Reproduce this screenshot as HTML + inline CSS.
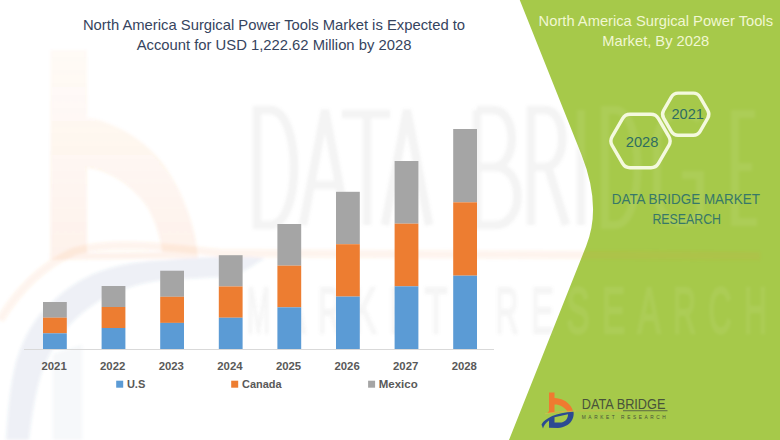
<!DOCTYPE html>
<html><head><meta charset="utf-8">
<style>
html,body{margin:0;padding:0;background:#fff;}
body{width:780px;height:440px;overflow:hidden;position:relative;font-family:"Liberation Sans",sans-serif;}
svg{position:absolute;left:0;top:0;}
</style></head>
<body>
<svg width="780" height="440" viewBox="0 0 780 440" font-family="Liberation Sans, sans-serif">
  <rect x="0" y="0" width="780" height="440" fill="#ffffff"/>
  <!-- green panel -->
  <path d="M519.76,0 L581.21,154 Q602.11,206.4 586.18,246 L509,440 L780,440 L780,0 Z" fill="#a6c94a"/>

  <!-- watermark -->
  <defs>
    <filter id="bl" x="-5%" y="-5%" width="110%" height="110%"><feGaussianBlur stdDeviation="1.6"/></filter>
    <linearGradient id="gb" x1="0" y1="50" x2="0" y2="260" gradientUnits="userSpaceOnUse"><stop offset="0" stop-color="#f07b30" stop-opacity="0.035"/><stop offset="1" stop-color="#f07b30" stop-opacity="0.1"/></linearGradient>
    <clipPath id="cg"><path d="M519.76,0 L581.21,154 Q602.11,206.4 586.18,246 L509,440 L780,440 L780,0 Z"/></clipPath>
    <clipPath id="cw"><path d="M0,0 L519.76,0 L581.21,154 Q602.11,206.4 586.18,246 L509,440 L0,440 Z"/></clipPath>
  </defs>
  <g filter="url(#bl)">
    <path fill="url(#gb)" fill-rule="evenodd" d="M50.5,50 L87,50 L87,118 C 105,119 140,135 160,160 C 180,185 196,225 198,258 L50.5,260 Z M87,168 C 110,170 135,188 148,208 C 157,225 161,240 162,252 L87,253 Z"/>
    <path fill="none" stroke="#f07b30" stroke-opacity="0.085" stroke-width="8" d="M0,320 C 20,287 45,264 75,251 C 110,241 160,246 220,253 L760,256"/>
    <path fill="#3b5a9a" fill-opacity="0.085" d="M6,440 C 8,410 10,385 16,362 C 24,335 35,318 49,305 C 64,290 80,279 98,272 C 120,264 140,261 164,260 C 200,257 235,255 265,258 C 250,268 240,274 229,276 C 205,279 185,278 164,280 C 140,283 122,289 106,297 C 90,306 76,317 65.5,330 C 54,345 46,360 41,375 C 35,395 31,420 29,440 Z"/>
    <path fill="#3b5a9a" fill-opacity="0.05" d="M53,354 L82,345 L82,440 L53,440 Z"/>
    <g clip-path="url(#cw)">
      <g fill="none" stroke="#808080" stroke-opacity="0.09" stroke-width="8.5">
      <path d="M257,110 L257,225 L270,225 C 302,225 302,110 270,110 Z"/>
      <path d="M303,225 L325,110 L347,225 M312,185 L338,185"/>
      <path d="M342,114 L390,114 M367,114 L367,225"/>
      <path d="M385,225 L407,110 L429,225 M394,185 L420,185"/>
      <path d="M477,110 L477,225 L495,225 C 525,225 525,167 495,167 L477,167 M477,110 L493,110 C 518,110 518,167 493,167"/>
      <path d="M531,225 L531,110 L545,110 C 568,110 568,167 545,167 L531,167 M548,167 L566,225"/>
      <path d="M581,110 L581,225"/>
      <path d="M605,110 L605,225 L615,225 C 645,225 645,110 615,110 Z"/>
      <path d="M700,120 C 690,110 660,108 657,140 L657,195 C 660,230 695,228 700,212 L700,175 L682,175"/>
      <path d="M755,114 L735,114 L735,222 L757,222 M735,167 L752,167"/>
    </g>
      <g font-size="64" fill="#808080" fill-opacity="0.055" stroke="#808080" stroke-opacity="0.055" stroke-width="2.5">
      <text x="247.0" y="333" textLength="23" lengthAdjust="spacingAndGlyphs">M</text>
      <text x="282.5" y="333" textLength="23" lengthAdjust="spacingAndGlyphs">A</text>
      <text x="318.0" y="333" textLength="23" lengthAdjust="spacingAndGlyphs">R</text>
      <text x="353.5" y="333" textLength="23" lengthAdjust="spacingAndGlyphs">K</text>
      <text x="389.0" y="333" textLength="23" lengthAdjust="spacingAndGlyphs">E</text>
      <text x="424.5" y="333" textLength="23" lengthAdjust="spacingAndGlyphs">T</text>
      <text x="495.5" y="333" textLength="23" lengthAdjust="spacingAndGlyphs">R</text>
      <text x="531.0" y="333" textLength="23" lengthAdjust="spacingAndGlyphs">E</text>
      <text x="566.5" y="333" textLength="23" lengthAdjust="spacingAndGlyphs">S</text>
      <text x="602.0" y="333" textLength="23" lengthAdjust="spacingAndGlyphs">E</text>
      <text x="637.5" y="333" textLength="23" lengthAdjust="spacingAndGlyphs">A</text>
      <text x="673.0" y="333" textLength="23" lengthAdjust="spacingAndGlyphs">R</text>
      <text x="708.5" y="333" textLength="23" lengthAdjust="spacingAndGlyphs">C</text>
      <text x="744.0" y="333" textLength="23" lengthAdjust="spacingAndGlyphs">H</text>
    </g>
    </g>
    <g clip-path="url(#cg)">
      <g fill="none" stroke="#ffffff" stroke-opacity="0.07" stroke-width="8">
      <path d="M257,110 L257,225 L270,225 C 302,225 302,110 270,110 Z"/>
      <path d="M303,225 L325,110 L347,225 M312,185 L338,185"/>
      <path d="M342,114 L390,114 M367,114 L367,225"/>
      <path d="M385,225 L407,110 L429,225 M394,185 L420,185"/>
      <path d="M477,110 L477,225 L495,225 C 525,225 525,167 495,167 L477,167 M477,110 L493,110 C 518,110 518,167 493,167"/>
      <path d="M531,225 L531,110 L545,110 C 568,110 568,167 545,167 L531,167 M548,167 L566,225"/>
      <path d="M581,110 L581,225"/>
      <path d="M605,110 L605,225 L615,225 C 645,225 645,110 615,110 Z"/>
      <path d="M700,120 C 690,110 660,108 657,140 L657,195 C 660,230 695,228 700,212 L700,175 L682,175"/>
      <path d="M755,114 L735,114 L735,222 L757,222 M735,167 L752,167"/>
    </g>
      <g font-size="64" fill="#ffffff" fill-opacity="0.05" stroke="#ffffff" stroke-opacity="0.05" stroke-width="2.5">
      <text x="247.0" y="333" textLength="23" lengthAdjust="spacingAndGlyphs">M</text>
      <text x="282.5" y="333" textLength="23" lengthAdjust="spacingAndGlyphs">A</text>
      <text x="318.0" y="333" textLength="23" lengthAdjust="spacingAndGlyphs">R</text>
      <text x="353.5" y="333" textLength="23" lengthAdjust="spacingAndGlyphs">K</text>
      <text x="389.0" y="333" textLength="23" lengthAdjust="spacingAndGlyphs">E</text>
      <text x="424.5" y="333" textLength="23" lengthAdjust="spacingAndGlyphs">T</text>
      <text x="495.5" y="333" textLength="23" lengthAdjust="spacingAndGlyphs">R</text>
      <text x="531.0" y="333" textLength="23" lengthAdjust="spacingAndGlyphs">E</text>
      <text x="566.5" y="333" textLength="23" lengthAdjust="spacingAndGlyphs">S</text>
      <text x="602.0" y="333" textLength="23" lengthAdjust="spacingAndGlyphs">E</text>
      <text x="637.5" y="333" textLength="23" lengthAdjust="spacingAndGlyphs">A</text>
      <text x="673.0" y="333" textLength="23" lengthAdjust="spacingAndGlyphs">R</text>
      <text x="708.5" y="333" textLength="23" lengthAdjust="spacingAndGlyphs">C</text>
      <text x="744.0" y="333" textLength="23" lengthAdjust="spacingAndGlyphs">H</text>
    </g>
    </g>
  </g>

  <!-- title -->
  <g fill="#36445e" font-size="14.8" text-anchor="middle">
    <text x="274" y="30.0">North America Surgical Power Tools Market is Expected to</text>
    <text x="274" y="49.6">Account for USD 1,222.62 Million by 2028</text>
  </g>

  <!-- axis -->
  <rect x="24" y="349" width="470" height="1" fill="#d9d9d9"/>

  <!-- bars -->
  <g>
    <rect x="43.00" y="302.00" width="23.8" height="15.67" fill="#a5a5a5"/>
    <rect x="43.00" y="317.67" width="23.8" height="15.67" fill="#ed7d31"/>
    <rect x="43.00" y="333.33" width="23.8" height="15.67" fill="#5b9bd5"/>
    <rect x="101.60" y="286.00" width="23.8" height="21.00" fill="#a5a5a5"/>
    <rect x="101.60" y="307.00" width="23.8" height="21.00" fill="#ed7d31"/>
    <rect x="101.60" y="328.00" width="23.8" height="21.00" fill="#5b9bd5"/>
    <rect x="160.20" y="270.70" width="23.8" height="26.10" fill="#a5a5a5"/>
    <rect x="160.20" y="296.80" width="23.8" height="26.10" fill="#ed7d31"/>
    <rect x="160.20" y="322.90" width="23.8" height="26.10" fill="#5b9bd5"/>
    <rect x="218.80" y="255.20" width="23.8" height="31.27" fill="#a5a5a5"/>
    <rect x="218.80" y="286.47" width="23.8" height="31.27" fill="#ed7d31"/>
    <rect x="218.80" y="317.73" width="23.8" height="31.27" fill="#5b9bd5"/>
    <rect x="277.40" y="224.00" width="23.8" height="41.67" fill="#a5a5a5"/>
    <rect x="277.40" y="265.67" width="23.8" height="41.67" fill="#ed7d31"/>
    <rect x="277.40" y="307.33" width="23.8" height="41.67" fill="#5b9bd5"/>
    <rect x="336.00" y="191.80" width="23.8" height="52.40" fill="#a5a5a5"/>
    <rect x="336.00" y="244.20" width="23.8" height="52.40" fill="#ed7d31"/>
    <rect x="336.00" y="296.60" width="23.8" height="52.40" fill="#5b9bd5"/>
    <rect x="394.60" y="161.00" width="23.8" height="62.67" fill="#a5a5a5"/>
    <rect x="394.60" y="223.67" width="23.8" height="62.67" fill="#ed7d31"/>
    <rect x="394.60" y="286.33" width="23.8" height="62.67" fill="#5b9bd5"/>
    <rect x="453.20" y="129.00" width="23.8" height="73.33" fill="#a5a5a5"/>
    <rect x="453.20" y="202.33" width="23.8" height="73.33" fill="#ed7d31"/>
    <rect x="453.20" y="275.67" width="23.8" height="73.33" fill="#5b9bd5"/>
  </g>

  <!-- year labels -->
  <g fill="#595959" font-size="11.35" font-weight="bold" text-anchor="middle">
    <text x="54.10" y="369.9">2021</text>
    <text x="112.70" y="369.9">2022</text>
    <text x="171.30" y="369.9">2023</text>
    <text x="229.90" y="369.9">2024</text>
    <text x="288.50" y="369.9">2025</text>
    <text x="347.10" y="369.9">2026</text>
    <text x="405.70" y="369.9">2027</text>
    <text x="464.30" y="369.9">2028</text>
  </g>

  <!-- legend -->
  <g font-size="10.8" font-weight="bold" fill="#595959">
    <rect x="116.2" y="380.7" width="7" height="7" fill="#5b9bd5"/>
    <text x="126.9" y="387.5" textLength="18.4" lengthAdjust="spacingAndGlyphs">U.S</text>
    <rect x="231.2" y="380.7" width="7" height="7" fill="#ed7d31"/>
    <text x="242.1" y="387.5" textLength="39.5" lengthAdjust="spacingAndGlyphs">Canada</text>
    <rect x="368.1" y="380.7" width="7" height="7" fill="#a5a5a5"/>
    <text x="378.8" y="387.5" textLength="38.9" lengthAdjust="spacingAndGlyphs">Mexico</text>
  </g>

  <!-- right panel title -->
  <g fill="#f1f7d2" font-size="15">
    <text x="538.6" y="26.3" textLength="234.4" lengthAdjust="spacingAndGlyphs">North America Surgical Power Tools</text>
    <text x="602.3" y="45.8" textLength="107" lengthAdjust="spacingAndGlyphs">Market, By 2028</text>
  </g>

  <!-- hexagons -->
  <g fill="none" stroke="#f4f9de" stroke-width="3.4">
    <path d="M668.90,136.67 Q671.40,141.00 668.90,145.33 L658.45,163.43 Q655.95,167.76 650.95,167.76 L630.05,167.76 Q625.05,167.76 622.55,163.43 L612.10,145.33 Q609.60,141.00 612.10,136.67 L622.55,118.57 Q625.05,114.24 630.05,114.24 L650.95,114.24 Q655.95,114.24 658.45,118.57 Z"/>
    <path d="M707.75,110.30 Q710.00,114.20 707.75,118.10 L700.10,131.35 Q697.85,135.24 693.35,135.24 L678.05,135.24 Q673.55,135.24 671.30,131.35 L663.65,118.10 Q661.40,114.20 663.65,110.30 L671.30,97.05 Q673.55,93.16 678.05,93.16 L693.35,93.16 Q697.85,93.16 700.10,97.05 Z"/>
  </g>
  <g fill="#2f6d60" font-size="14">
    <text x="625.8" y="147" textLength="32.6" lengthAdjust="spacingAndGlyphs">2028</text>
    <text x="671.5" y="119.1" textLength="32.4" lengthAdjust="spacingAndGlyphs">2021</text>
  </g>

  <!-- DBMR text -->
  <g fill="#377868" font-size="14.5">
    <text x="611.7" y="203.8" textLength="148.3" lengthAdjust="spacingAndGlyphs">DATA BRIDGE MARKET</text>
    <text x="652.4" y="223.6" textLength="68.6" lengthAdjust="spacingAndGlyphs">RESEARCH</text>
  </g>

  <!-- logo -->
  <path d="M549,392.5 L554.5,392.5 L554.5,398 C 561,398.3 567,401 570.5,406 C 572,408 572.8,410 573,411.2 L547.5,413 L549,411 Z M554.5,404.5 C 559,404.3 564,406.5 567.5,411.5 L554.5,412 Z" fill="#ef7a30" fill-rule="evenodd"/>
  <path d="M545,413.8 C 555,411.8 565,411.2 576,411" stroke="#e3c050" stroke-width="0.8" fill="none" opacity="0.6"/>
  <path d="M541.5,424.5 C 545,418 556,413 573.5,411.8 C 574.5,418 571,427 558,428 L549,427.8 L549,420.5 C 546,422.5 543.5,426 543,428.5 Z M554.5,417.2 L568,414.2 C 568,418 566,421.5 561.5,422.5 L554.5,422.5 Z" fill="#2c4a92" fill-rule="evenodd"/>
  <g fill="#48523a">
    <text x="581.8" y="409" font-size="14.5" textLength="83.6" lengthAdjust="spacingAndGlyphs">DATA BRIDGE</text>
    <text x="581.8" y="418.6" font-size="4.8" textLength="84" lengthAdjust="spacing">MARKET  RESEARCH</text>
  </g>
  <rect x="623" y="410.3" width="44.5" height="0.9" fill="#566040"/>
  <rect x="575" y="410.5" width="48" height="0.8" fill="#d9b84a" opacity="0.6"/>
</svg>
</body></html>
